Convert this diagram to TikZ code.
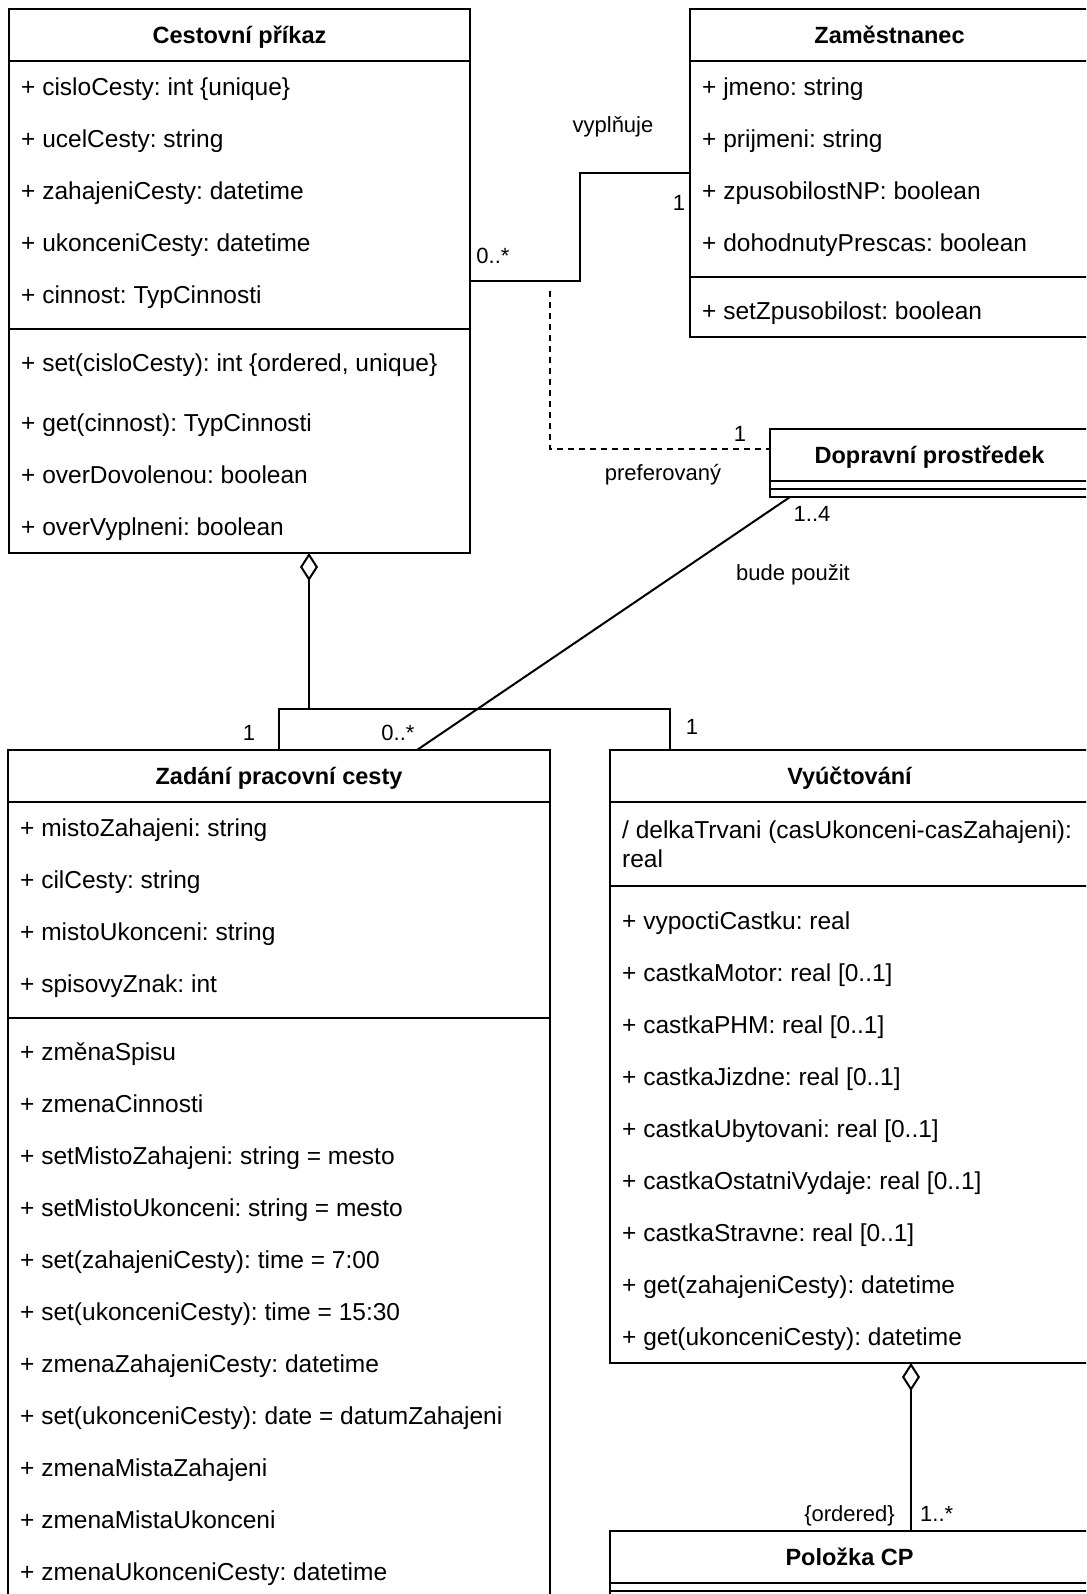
\documentclass[tikz,border=0pt]{standalone}
\usepackage{fontspec}
\setmainfont{Liberation Sans}
\usetikzlibrary{calc,arrows.meta}
\tikzset{
  classbox/.style={draw, line width=2pt, fill=white, outer sep=0pt, inner sep=0pt, anchor=north west},
  rule/.style={line width=2pt},
  title/.style={font=\fontsize{23.5}{28}\selectfont\bfseries, inner sep=0pt, anchor=base},
  member/.style={font=\fontsize{24.5}{29}\selectfont, inner sep=0pt, anchor=base west},
  lbl/.style={font=\fontsize{22}{26}\selectfont, inner sep=0pt, anchor=base},
  assoc/.style={line width=2pt},
  depline/.style={line width=2pt, dash pattern=on 6pt off 5pt},
  agg/.style={line width=2pt, {Diamond[open,length=28pt,width=18pt]}-},
}
\begin{document}
\frenchspacing
\begin{tikzpicture}[x=1pt,y=-1pt]
\useasboundingbox (0,0) rectangle (1086,1594);
\clip (0,0) rectangle (1086,1594);
\fill[white] (0,0) rectangle (1086,1594);

% ---------- Cestovní příkaz ----------
\node[classbox, minimum width=461pt, minimum height=544pt] (cp) at (9,9) {};
\draw[rule] ($(cp.north west)+(0,52)$) -- ($(cp.north east)+(0,52)$);
\draw[rule] ($(cp.north west)+(0,320)$) -- ($(cp.north east)+(0,320)$);
\node[title] (cpT) at (239.5,43.5) {Cestovní příkaz};
\node[member] (cpA1) at (21,95.5) {+ cisloCesty: int \{unique\}};
\node[member] (cpA2) at (21,147.5) {+ ucelCesty: string};
\node[member] (cpA3) at (21,199.5) {+ zahajeniCesty: datetime};
\node[member] (cpA4) at (21,251.5) {+ ukonceniCesty: datetime};
\node[member] (cpA5) at (21,303.5) {+ cinnost: TypCinnosti};
\node[member] (cpM1) at (21,371.5) {+ set(cisloCesty): int \{ordered, unique\}};
\node[member] (cpM2) at (21,431.5) {+ get(cinnost): TypCinnosti};
\node[member] (cpM3) at (21,483.5) {+ overDovolenou: boolean};
\node[member] (cpM4) at (21,535.5) {+ overVyplneni: boolean};

% ---------- Zaměstnanec ----------
\node[classbox, minimum width=399pt, minimum height=328pt] (zm) at (690,9) {};
\draw[rule] ($(zm.north west)+(0,52)$) -- ($(zm.north east)+(0,52)$);
\draw[rule] ($(zm.north west)+(0,268)$) -- ($(zm.north east)+(0,268)$);
\node[title] (zmT) at (889.5,43.5) {Zaměstnanec};
\node[member] (zmA1) at (702,95.5) {+ jmeno: string};
\node[member] (zmA2) at (702,147.5) {+ prijmeni: string};
\node[member] (zmA3) at (702,199.5) {+ zpusobilostNP: boolean};
\node[member] (zmA4) at (702,251.5) {+ dohodnutyPrescas: boolean};
\node[member] (zmM1) at (702,319.5) {+ setZpusobilost: boolean};

% ---------- Dopravní prostředek ----------
\node[classbox, minimum width=319pt, minimum height=68pt] (dp) at (770,429) {};
\draw[rule] ($(dp.north west)+(0,52)$) -- ($(dp.north east)+(0,52)$);
\draw[rule] ($(dp.north west)+(0,60)$) -- ($(dp.north east)+(0,60)$);
\node[title] (dpT) at (929.5,463.5) {Dopravní prostředek};

% ---------- Zadání pracovní cesty ----------
\node[classbox, minimum width=542pt, minimum height=900pt] (zc) at (8,750) {};
\draw[rule] ($(zc.north west)+(0,52)$) -- ($(zc.north east)+(0,52)$);
\draw[rule] ($(zc.north west)+(0,268)$) -- ($(zc.north east)+(0,268)$);
\node[title] (zcT) at (279,784.5) {Zadání pracovní cesty};
\node[member] (zcA1) at (20,836.5) {+ mistoZahajeni: string};
\node[member] (zcA2) at (20,888.5) {+ cilCesty: string};
\node[member] (zcA3) at (20,940.5) {+ mistoUkonceni: string};
\node[member] (zcA4) at (20,992.5) {+ spisovyZnak: int};
\node[member] (zcM1) at (20,1060.5) {+ změnaSpisu};
\node[member] (zcM2) at (20,1112.5) {+ zmenaCinnosti};
\node[member] (zcM3) at (20,1164.5) {+ setMistoZahajeni: string = mesto};
\node[member] (zcM4) at (20,1216.5) {+ setMistoUkonceni: string = mesto};
\node[member] (zcM5) at (20,1268.5) {+ set(zahajeniCesty): time = 7:00};
\node[member] (zcM6) at (20,1320.5) {+ set(ukonceniCesty): time = 15:30};
\node[member] (zcM7) at (20,1372.5) {+ zmenaZahajeniCesty: datetime};
\node[member] (zcM8) at (20,1424.5) {+ set(ukonceniCesty): date = datumZahajeni};
\node[member] (zcM9) at (20,1476.5) {+ zmenaMistaZahajeni};
\node[member] (zcM10) at (20,1528.5) {+ zmenaMistaUkonceni};
\node[member] (zcM11) at (20,1580.5) {+ zmenaUkonceniCesty: datetime};

% ---------- Vyúčtování ----------
\node[classbox, minimum width=479pt, minimum height=613pt] (vu) at (610,750) {};
\draw[rule] ($(vu.north west)+(0,52)$) -- ($(vu.north east)+(0,52)$);
\draw[rule] ($(vu.north west)+(0,136)$) -- ($(vu.north east)+(0,136)$);
\node[title] (vuT) at (849.5,784.5) {Vyúčtování};
\node[member] (vuA1) at (622,838.5) {/ delkaTrvani (casUkonceni-casZahajeni):};
\node[member] (vuA1b) at (622,867) {real};
\node[member] (vuM1) at (622,929.5) {+ vypoctiCastku: real};
\node[member] (vuM2) at (622,981.5) {+ castkaMotor: real [0..1]};
\node[member] (vuM3) at (622,1033.5) {+ castkaPHM: real [0..1]};
\node[member] (vuM4) at (622,1085.5) {+ castkaJizdne: real [0..1]};
\node[member] (vuM5) at (622,1137.5) {+ castkaUbytovani: real [0..1]};
\node[member] (vuM6) at (622,1189.5) {+ castkaOstatniVydaje: real [0..1]};
\node[member] (vuM7) at (622,1241.5) {+ castkaStravne: real [0..1]};
\node[member] (vuM8) at (622,1293.5) {+ get(zahajeniCesty): datetime};
\node[member] (vuM9) at (622,1345.5) {+ get(ukonceniCesty): datetime};

% ---------- Položka CP ----------
\node[classbox, minimum width=479pt, minimum height=100pt] (pl) at (610,1531) {};
\draw[rule] ($(pl.north west)+(0,52)$) -- ($(pl.north east)+(0,52)$);
\draw[rule] ($(pl.north west)+(0,60)$) -- ($(pl.north east)+(0,60)$);
\node[title] (plT) at (849.5,1565.5) {Položka CP};

% ---------- vyplňuje ----------
\draw[assoc] (cp.east) -| ($(cp.east)!.5!(zm.west)$) |- (zm.west);
\node[lbl] (vypl) at (613,133) {vyplňuje};
\node[lbl] (vyplA) at (493,264) {0..*};
\node[lbl] (vyplB) at (679,211) {1};

% ---------- preferovaný ----------
\coordinate (prefstart) at (550,291);
\coordinate (dpin) at ($(dp.north west)+(0,20)$);
\draw[depline] (prefstart) |- (dpin);
\node[lbl] (prefB) at (740,441) {1};
\node[lbl] (pref) at (663,480) {preferovaný};

% ---------- bude použit ----------
\coordinate (dpout) at ($(dp.south west)+(20,0)$);
\coordinate (zcin) at ($(zc.north west)+(409,0)$);
\draw[assoc] (dpout) -- (zcin);
\node[lbl] (budeB) at (812,521) {1..4};
\node[lbl] (bude) at (793,580) {bude použit};
\node[lbl] (budeA) at (398,740) {0..*};

% ---------- aggregation Cestovní příkaz ----------
\coordinate (aggtop) at ($(cp.south west)+(300,0)$);
\coordinate (aggmid) at ($(aggtop)+(0,156)$);
\coordinate (vuin) at ($(vu.north west)+(60,0)$);
\draw[agg] (aggtop) -- (aggmid);
\draw[assoc] (zc.north) |- (aggmid) -| (vuin);
\node[lbl] (aggA) at (249,740) {1};
\node[lbl] (aggB) at (692,734) {1};

% ---------- aggregation Vyúčtování ----------
\coordinate (vutop) at ($(vu.south west)+(301,0)$);
\coordinate (plin) at ($(pl.north west)+(301,0)$);
\draw[agg] (vutop) -- (plin);
\node[lbl, anchor=base east] (ordA) at (895,1521) {\{ordered\}};
\node[lbl, anchor=base west] (ordB) at (920,1521) {1..*};
\end{tikzpicture}
\end{document}
